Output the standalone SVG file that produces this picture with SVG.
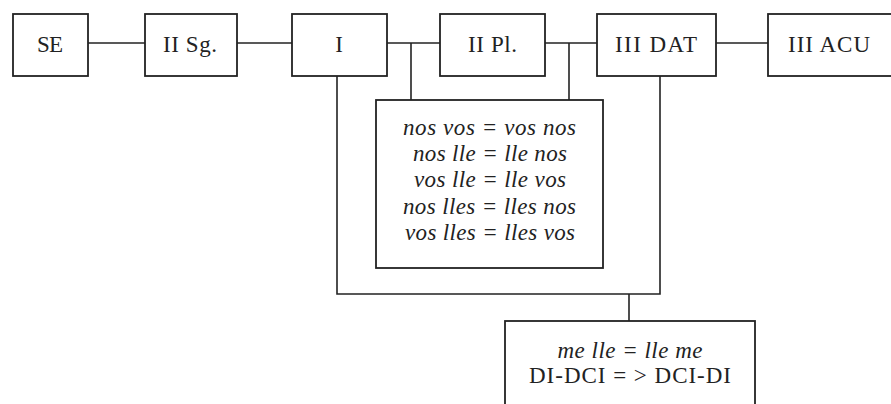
<svg xmlns="http://www.w3.org/2000/svg" width="891" height="404" viewBox="0 0 891 404">
  <style>
    .box { fill: #fff; stroke: #222; stroke-width: 1.8; }
    .wire { fill: none; stroke: #222; stroke-width: 1.6; }
    .lbl { font-family: "Liberation Serif", "DejaVu Serif", serif; font-size: 23px; fill: #222; text-anchor: middle; }
    .it { font-style: italic; font-size: 23px; }
  </style>
  <rect width="891" height="404" fill="#fff"/>

  <g id="connectors">
    <line class="wire" x1="88" y1="43" x2="145" y2="43"/>
    <line class="wire" x1="237" y1="43" x2="292" y2="43"/>
    <line class="wire" x1="387" y1="43" x2="440" y2="43"/>
    <line class="wire" x1="545" y1="43" x2="597" y2="43"/>
    <line class="wire" x1="716" y1="43" x2="768" y2="43"/>
    <!-- I / II Pl. and II Pl. / III DAT down to the pair box -->
    <line class="wire" x1="411" y1="43" x2="411" y2="100"/>
    <line class="wire" x1="569" y1="43" x2="569" y2="100"/>
    <!-- I and III DAT joined below, down to the bottom box -->
    <polyline class="wire" points="337,76 337,294 660,294 660,76"/>
    <line class="wire" x1="629" y1="294" x2="629" y2="321"/>
  </g>

  <g id="se">
    <rect class="box" x="13" y="14" width="75" height="62"/>
    <text class="lbl" x="50" y="52" textLength="26">SE</text>
  </g>
  <g id="ii-sg">
    <rect class="box" x="145" y="14" width="92" height="62"/>
    <text class="lbl" x="190" y="52" textLength="54">II Sg.</text>
  </g>
  <g id="i">
    <rect class="box" x="292" y="14" width="95" height="62"/>
    <text class="lbl" x="339" y="52">I</text>
  </g>
  <g id="ii-pl">
    <rect class="box" x="440" y="14" width="105" height="62"/>
    <text class="lbl" x="492.5" y="52" textLength="49">II Pl.</text>
  </g>
  <g id="iii-dat">
    <rect class="box" x="597" y="14" width="119" height="62"/>
    <text class="lbl" x="656" y="52" textLength="82">III DAT</text>
  </g>
  <g id="iii-acu">
    <rect class="box" x="768" y="14" width="126" height="62"/>
    <text class="lbl" x="829" y="52" textLength="82">III ACU</text>
  </g>

  <g id="pairs">
    <rect class="box" x="376" y="100" width="227" height="168"/>
    <text class="lbl it" x="489.5" y="135" textLength="173">nos vos = vos nos</text>
    <text class="lbl it" x="490" y="161" textLength="154">nos lle = lle nos</text>
    <text class="lbl it" x="490" y="187" textLength="152">vos lle = lle vos</text>
    <text class="lbl it" x="489.5" y="214" textLength="173">nos lles = lles nos</text>
    <text class="lbl it" x="490" y="240" textLength="170">vos lles = lles vos</text>
  </g>

  <g id="me-lle">
    <rect class="box" x="505" y="321" width="250" height="90"/>
    <text class="lbl it" x="630" y="358" textLength="145">me lle = lle me</text>
    <text class="lbl" x="630" y="383" textLength="202">DI-DCI = &gt; DCI-DI</text>
  </g>
</svg>
